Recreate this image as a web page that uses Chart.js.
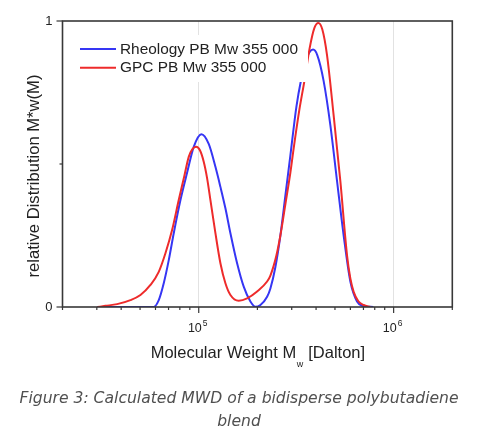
<!DOCTYPE html>
<html>
<head>
<meta charset="utf-8">
<script src="https://cdn.jsdelivr.net/npm/chart.js@4.4.1/dist/chart.umd.min.js"></script>
<style>
  html, body { margin:0; padding:0; background:#fff; }
  #wrap { position:relative; width:478px; height:435px; }
  #c { position:absolute; left:0; top:0; }
  #cap { position:absolute; left:0; top:386.5px; width:478px; text-align:center;
         font-family: "DejaVu Sans", sans-serif; font-style:italic; font-size:15.6px;
         color:#505050; line-height:23px; }
</style>
</head>
<body>
<div id="wrap">
  <canvas id="c" width="478" height="435"></canvas>
  <div id="cap">Figure 3: Calculated MWD of a bidisperse polybutadiene<br>blend</div>
</div>
<script>
// ---- data ----
const seriesNames = ['Rheology PB Mw 355 000', 'GPC PB Mw 355 000'];
const seriesColors = ['#3636f4', '#ee2b2b'];

const rheoM = [30200, 58770, 62360, 66140, 70190, 74440, 80580, 87200, 94280, 103240,
               112530, 121800, 129200, 137060, 145410, 157360, 170160, 184120, 195350, 207240,
               224290, 233200, 247400, 262400, 278400, 295300, 317000, 336300, 352500, 369500,
               386000, 406100, 437500, 473500, 512500, 554100, 599700, 649100, 691000, 787100];
const rheoW = [0, 0, 0.024, 0.083, 0.164, 0.258, 0.374, 0.47, 0.56, 0.604,
               0.57, 0.49, 0.42, 0.345, 0.258, 0.153, 0.071, 0.019, 0.001, 0.007,
               0.036, 0.065, 0.14, 0.25, 0.39, 0.53, 0.70, 0.80, 0.86, 0.89,
               0.90, 0.88, 0.79, 0.636, 0.44, 0.25, 0.089, 0.019, 0.004, 0];

const gpcM = [30200, 33230, 38150, 44630, 50230, 56530, 62360, 67480, 73050, 78960,
              84470, 88860, 92830, 96980, 101430, 106080, 110430, 114820, 121800, 129200,
              137060, 145410, 160370, 177100, 199300, 224290, 233200, 250300, 262400, 278400,
              295300, 307000, 328400, 348400, 370800, 391900, 410900, 430800, 455400, 492300,
              532900, 576800, 599700, 623600, 659200, 701700, 759600];
const gpcW = [0, 0.004, 0.010, 0.024, 0.042, 0.077, 0.123, 0.188, 0.27, 0.374,
              0.46, 0.525, 0.552, 0.56, 0.548, 0.508, 0.45, 0.374, 0.258, 0.153,
              0.083, 0.042, 0.022, 0.03, 0.054, 0.089, 0.11, 0.18, 0.25, 0.36,
              0.47, 0.555, 0.69, 0.79, 0.905, 0.975, 0.993, 0.97, 0.88, 0.67,
              0.44, 0.18, 0.10, 0.053, 0.02, 0.007, 0];

const xMin = 20000, xMax = 2000000;
const xTickValues = [20000, 30000, 40000, 50000, 60000, 70000, 80000, 90000,
                     100000, 200000, 300000, 400000, 500000, 600000, 700000, 800000, 900000,
                     1000000, 2000000];
const xMajorTicks = [100000, 1000000];
const xMajorBase = ['10', '10'];
const xMajorExp = ['5', '6'];
const yTickValues = [0, 0.5, 1];
const yTickLabels = ['0', '', '1'];
const yMajorTicks = [0, 1];

const xTitleMain = 'Molecular Weight M';
const xTitleSub = 'w';
const xTitleEnd = ' [Dalton]';
const yTitle = 'relative Distribution M*w(M)';

// ---- plugins ----
const AXIS = '#383838';
const FONT = '"Liberation Sans", Arial, sans-serif';
const decor = {
  id: 'decor',
  afterDatasetsDraw(chart) {
    const ctx = chart.ctx, a = chart.chartArea;
    const xs = chart.scales.x, ys = chart.scales.y;
    ctx.save();
    // legend box (white, covers curves)
    ctx.fillStyle = '#fff';
    ctx.fillRect(70, 35, 238, 47);
    ctx.font = '15.4px ' + FONT;
    ctx.textBaseline = 'middle';
    ctx.textAlign = 'left';
    chart.data.datasets.forEach((ds, i) => {
      const y = 49 + i * 18.7;
      ctx.strokeStyle = ds.borderColor; ctx.lineWidth = 2;
      ctx.beginPath(); ctx.moveTo(80, y); ctx.lineTo(116, y); ctx.stroke();
      ctx.fillStyle = '#222';
      ctx.fillText(ds.label, 120, y + 0.5);
    });
    // frame
    ctx.strokeStyle = AXIS; ctx.lineWidth = 1.6;
    ctx.strokeRect(a.left, a.top, a.right - a.left, a.bottom - a.top);
    // x ticks
    ctx.lineWidth = 1.2;
    xTickValues.forEach(v => {
      const px = xs.getPixelForValue(v);
      const len = xMajorTicks.includes(v) ? 6 : 3;
      ctx.beginPath(); ctx.moveTo(px, a.bottom); ctx.lineTo(px, a.bottom + len); ctx.stroke();
    });
    // y ticks
    yTickValues.forEach(v => {
      const py = ys.getPixelForValue(v);
      const len = yMajorTicks.includes(v) ? 6 : 3;
      ctx.beginPath(); ctx.moveTo(a.left, py); ctx.lineTo(a.left - len, py); ctx.stroke();
    });
    // x major tick labels 10^n
    ctx.fillStyle = '#222';
    ctx.textBaseline = 'alphabetic';
    ctx.textAlign = 'left';
    const baseF = '12.5px ' + FONT, expF = '8.5px ' + FONT;
    xMajorTicks.forEach((v, i) => {
      const px = xs.getPixelForValue(v);
      ctx.font = baseF; const wb = ctx.measureText(xMajorBase[i]).width;
      ctx.font = expF; const we = ctx.measureText(xMajorExp[i]).width;
      let sx = px - (wb + we + 1) / 2 - 1;
      ctx.font = baseF; ctx.fillText(xMajorBase[i], sx, 332);
      ctx.font = expF; ctx.fillText(xMajorExp[i], sx + wb + 1, 325.5);
    });
    // x title with subscript
    const big = '16.5px ' + FONT;
    const small = '9px ' + FONT;
    ctx.font = big; const w1 = ctx.measureText(xTitleMain).width; const w3 = ctx.measureText(xTitleEnd).width;
    ctx.font = small; const w2 = ctx.measureText(xTitleSub).width;
    let sx = (a.left + a.right) / 2 - (w1 + w2 + w3) / 2;
    const by = 357.5;
    ctx.font = big; ctx.fillText(xTitleMain, sx, by); sx += w1;
    ctx.font = small; ctx.fillText(xTitleSub, sx + 0.5, by + 9); sx += w2 + 1;
    ctx.font = big; ctx.fillText(xTitleEnd, sx, by);
    // y title
    ctx.translate(38.5, 176);
    ctx.rotate(-Math.PI / 2);
    ctx.textAlign = 'center';
    ctx.font = '16.6px ' + FONT;
    ctx.fillText(yTitle, 0, 0);
    ctx.restore();
  }
};

new Chart(document.getElementById('c'), {
  type: 'line',
  data: {
    datasets: [
      { label: seriesNames[0], data: rheoM.map((m, i) => ({ x: m, y: rheoW[i] })),
        borderColor: seriesColors[0], borderWidth: 2, pointRadius: 0, fill: false,
        cubicInterpolationMode: 'monotone', order: 1 },
      { label: seriesNames[1], data: gpcM.map((m, i) => ({ x: m, y: gpcW[i] })),
        borderColor: seriesColors[1], borderWidth: 2, pointRadius: 0, fill: false,
        cubicInterpolationMode: 'monotone', order: 0 }
    ]
  },
  options: {
    responsive: false,
    animation: false,
    devicePixelRatio: 1,
    layout: { padding: { left: 0, right: 25.7, top: 21, bottom: 0 } },
    plugins: { legend: { display: false }, tooltip: { enabled: false }, title: { display: false } },
    scales: {
      x: {
        type: 'logarithmic', min: xMin, max: xMax,
        afterBuildTicks: s => { s.ticks = xTickValues.map(v => ({ value: v })); },
        afterFit: s => { s.height = 128; },
        border: { display: false },
        grid: { drawTicks: false,
                color: c => (c.tick && xMajorTicks.includes(c.tick.value)) ? '#e2e2e2' : 'rgba(0,0,0,0)',
                lineWidth: 1 },
        ticks: { autoSkip: false, maxRotation: 0, padding: 10, color: '#222',
                 font: { family: FONT, size: 13 },
                 callback: () => '' }
      },
      y: {
        type: 'linear', min: 0, max: 1,
        afterBuildTicks: s => { s.ticks = yTickValues.map(v => ({ value: v })); },
        afterFit: s => { s.width = 62.5; },
        border: { display: false },
        grid: { display: false, drawTicks: false },
        ticks: { padding: 10, color: '#222',
                 font: { family: FONT, size: 13 },
                 callback: v => { const k = yTickValues.indexOf(v); return k >= 0 ? yTickLabels[k] : ''; } }
      }
    }
  },
  plugins: [decor]
});
</script>
</body>
</html>
